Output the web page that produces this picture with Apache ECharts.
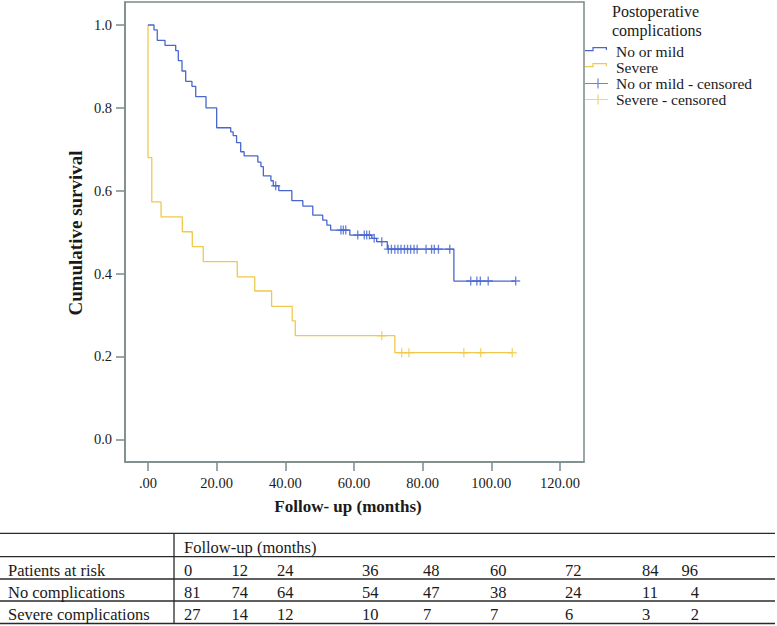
<!DOCTYPE html>
<html><head><meta charset="utf-8">
<script src="https://cdn.jsdelivr.net/npm/echarts@6/dist/echarts.min.js"></script>
<style>html,body{margin:0;padding:0;background:#fff}#c{width:777px;height:626px}</style>
</head><body><div id="c"></div>
<script>
// ---- data ----
const noMildTimes = [1.75, 2.7, 4.95, 8.07, 8.83, 9.9, 10.98, 12.8, 13.9, 16.9, 20.0, 24.1, 24.8, 25.8, 27.0, 28.0, 32.0, 32.9, 33.6, 35.8, 36.5, 38.1, 41.9, 45.1, 48.0, 50.9, 52.1, 53.2, 58.8, 65.2, 66.6, 69.7, 89.1];
const noMildSurv  = [0.988, 0.963, 0.951, 0.938, 0.914, 0.889, 0.864, 0.852, 0.827, 0.800, 0.752, 0.742, 0.733, 0.716, 0.694, 0.684, 0.669, 0.658, 0.636, 0.624, 0.612, 0.600, 0.576, 0.563, 0.541, 0.529, 0.517, 0.505, 0.493, 0.485, 0.477, 0.459, 0.382];
const noMildCensorTimes = [37.2, 56.2, 56.9, 57.6, 61.1, 63.0, 63.7, 64.5, 65.9, 68.1, 70.0, 70.9, 71.9, 72.8, 73.7, 74.7, 75.6, 76.5, 77.5, 78.4, 81.0, 82.6, 83.4, 84.6, 87.9, 94.0, 95.8, 96.8, 99.1, 107.1];
const severeTimes = [0, 1.1, 3.8, 10.0, 12.9, 16.1, 26.0, 31.1, 36.0, 42.0, 42.9, 71.9];
const severeSurv  = [0.680, 0.573, 0.537, 0.501, 0.465, 0.429, 0.392, 0.358, 0.321, 0.286, 0.250, 0.209];
const severeCensorTimes = [68.1, 73.9, 76.0, 92.0, 96.9, 106.1];
const xTickValues = [0, 20, 40, 60, 80, 100, 120];
const yTickValues = [0, 0.2, 0.4, 0.6, 0.8, 1.0];
const seriesNames = ['No or mild', 'Severe', 'No or mild - censored', 'Severe - censored'];
const legendTitle = ['Postoperative', 'complications'];
const riskTimes = ['0', '12', '24', '36', '48', '60', '72', '84', '96'];
const riskNoComp = [81, 74, 64, 54, 47, 38, 24, 11, 4];
const riskSevere = [27, 14, 12, 10, 7, 7, 6, 3, 2];
const tableRowLabels = ['Patients at risk', 'No complications', 'Severe complications'];
const tableHeader = 'Follow-up (months)';

// ---- helpers ----
function stepData(times, surv, censors) {
  const d = [[0, 1]];
  times.forEach((t, i) => d.push([t, surv[i]]));
  const end = Math.max(times[times.length - 1], ...censors);
  d.push([end, surv[surv.length - 1]]);
  return d;
}
function survAt(times, surv, t) {
  let s = 1;
  for (let i = 0; i < times.length; i++) if (times[i] <= t) s = surv[i];
  return s;
}
function censorData(times, surv, censors) {
  return censors.map(t => [t, survAt(times, surv, t)]);
}

const FONT = '"Liberation Serif", "Times New Roman", serif';
const BLUE = '#4767cf', YELLOW = '#efc94c', FRAME = '#7b8a8a', TXT = '#1a1a1a';
const plusSym = 'path://M-0.15,-1H0.15V-0.15H1V0.15H0.15V1H-0.15V0.15H-1V-0.15H-0.15Z';
const bboxDots = 'M0,0h0.02v0.02h-0.02Z M22.98,9.98h0.02v0.02h-0.02Z ';
const stepIcon = 'path://' + bboxDots + 'M0,3.5H8.6V4.7H0Z M7.4,0.5H8.6V4.7H7.4Z M7.4,0.5H22V1.7H7.4Z M20.8,0.5H22V3.5H20.8Z';
const plusIcon = 'path://' + bboxDots + 'M0,4.4H23V5.6H0Z M12.4,0H13.6V10H12.4Z';

// ---- table graphics ----
const graphics = [];
function txt(x, y, text, opts) {
  const o = Object.assign({ fontSize: 16.5, fontWeight: 'normal', align: 'left' }, opts || {});
  graphics.push({
    type: 'text', x: x, y: y, rotation: o.rotation || 0, silent: true,
    style: { text: text, fontSize: o.fontSize, fontWeight: o.fontWeight, fontFamily: FONT, fill: TXT,
      align: o.align, textAlign: o.align, verticalAlign: 'middle', textVerticalAlign: 'middle' }
  });
}
function hline(y, x1, x2) {
  graphics.push({ type: 'line', silent: true, shape: { x1: x1, y1: y, x2: x2, y2: y }, style: { stroke: '#2a2a2a', lineWidth: 1.3 } });
}
// axis titles & legend title
txt(348, 506.5, 'Follow- up (months)', { fontSize: 17, fontWeight: 'bold', align: 'center' });
txt(75, 233, 'Cumulative survival', { fontSize: 19, fontWeight: 'bold', align: 'center', rotation: Math.PI / 2 });
txt(612, 11, legendTitle[0], { fontSize: 16 });
txt(612, 30.5, legendTitle[1], { fontSize: 16 });

// table
const tableLinesY = [533.3, 556.7, 579, 601, 623.5];
tableLinesY.forEach(y => hline(y, 0, 775));
graphics.push({ type: 'line', silent: true, shape: { x1: 174, y1: 533.3, x2: 174, y2: 623.5 }, style: { stroke: '#2a2a2a', lineWidth: 1.3 } });
const rowY = [547.5, 570.5, 592.8, 614];
const colX = [184, 231.5, 277, 362, 423, 490, 565, 642, 699];
const colAlign = ['left', 'left', 'left', 'left', 'left', 'left', 'left', 'left', 'right'];
txt(184, rowY[0], tableHeader);
txt(8, rowY[1], tableRowLabels[0]);
txt(8, rowY[2], tableRowLabels[1]);
txt(8, rowY[3], tableRowLabels[2]);
riskTimes.forEach((v, i) => txt(colAlign[i] === 'right' ? colX[i] - 1 : colX[i], rowY[1], v, { align: colAlign[i] }));
riskNoComp.forEach((v, i) => txt(colX[i], rowY[2], String(v), { align: colAlign[i] }));
riskSevere.forEach((v, i) => txt(colX[i], rowY[3], String(v), { align: colAlign[i] }));

const chart = echarts.init(document.getElementById('c'), null, { renderer: 'svg', width: 777, height: 626 });
chart.setOption({
  animation: false,
  backgroundColor: '#fff',
  grid: { left: 125, right: 193, top: 2, bottom: 164, show: true, borderColor: FRAME, borderWidth: 1.5, backgroundColor: 'transparent' },
  xAxis: {
    type: 'value', min: -6.7, max: 127,
    axisLine: { show: true, onZero: false, lineStyle: { color: FRAME, width: 1.5 } },
    axisTick: { show: true, inside: false, customValues: xTickValues, length: 9, lineStyle: { color: FRAME, width: 1.5 } },
    axisLabel: { customValues: xTickValues, margin: 13, fontSize: 14.5, fontFamily: FONT, color: TXT,
      formatter: v => v === 0 ? '.00' : Number(v).toFixed(2) },
    splitLine: { show: false }
  },
  yAxis: {
    type: 'value', min: -0.0548, max: 1.0555,
    axisLine: { show: true, onZero: false, lineStyle: { color: FRAME, width: 1.5 } },
    axisTick: { show: true, inside: false, customValues: yTickValues, length: 9, lineStyle: { color: FRAME, width: 1.5 } },
    axisLabel: { customValues: yTickValues, margin: 13, fontSize: 14.5, fontFamily: FONT, color: TXT,
      formatter: v => Number(v).toFixed(1) },
    splitLine: { show: false }
  },
  legend: {
    orient: 'vertical', left: 585, top: 43.5, padding: 0, itemWidth: 23, itemHeight: 10, itemGap: 0,
    selectedMode: false,
    itemStyle: { borderWidth: 0 },
    textStyle: { fontSize: 15.5, fontFamily: FONT, color: TXT, lineHeight: 15, padding: [0, 0, 0, 3] },
    data: [
      { name: seriesNames[0], icon: stepIcon },
      { name: seriesNames[1], icon: stepIcon },
      { name: seriesNames[2], icon: plusIcon },
      { name: seriesNames[3], icon: plusIcon }
    ]
  },
  series: [
    { name: seriesNames[0], type: 'line', step: 'end', showSymbol: false, symbol: 'none', color: BLUE,
      lineStyle: { color: BLUE, width: 1.3 }, data: stepData(noMildTimes, noMildSurv, noMildCensorTimes), z: 3 },
    { name: seriesNames[1], type: 'line', step: 'end', showSymbol: false, symbol: 'none', color: YELLOW,
      lineStyle: { color: YELLOW, width: 1.3 }, data: stepData(severeTimes, severeSurv, severeCensorTimes), z: 2 },
    { name: seriesNames[2], type: 'scatter', symbol: plusSym, symbolSize: 9, color: BLUE,
      itemStyle: { color: BLUE, borderWidth: 0 }, data: censorData(noMildTimes, noMildSurv, noMildCensorTimes), z: 4 },
    { name: seriesNames[3], type: 'scatter', symbol: plusSym, symbolSize: 9, color: YELLOW,
      itemStyle: { color: YELLOW, borderWidth: 0 }, data: censorData(severeTimes, severeSurv, severeCensorTimes), z: 4 }
  ],
  graphic: graphics
});
</script></body></html>
